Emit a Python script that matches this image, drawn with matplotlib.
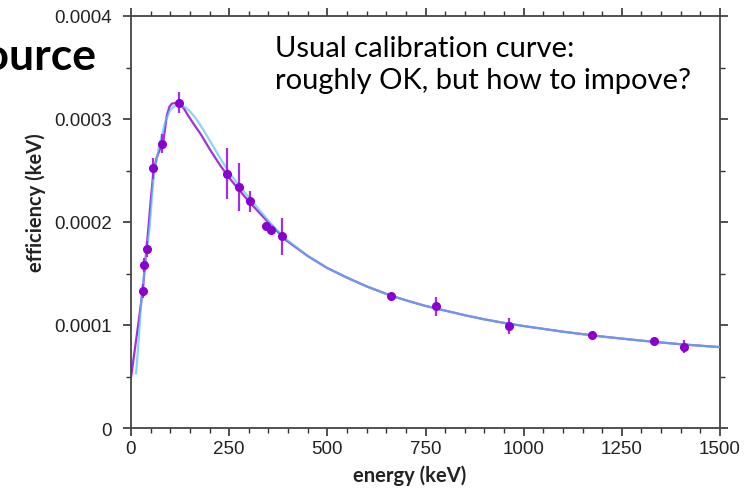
import matplotlib
matplotlib.use("Agg")
import matplotlib.pyplot as plt
from matplotlib.ticker import MultipleLocator, FuncFormatter
import numpy as np

# measured points (energy keV, efficiency in units of 1e-4)
energy_pts = [30, 34, 40, 57, 80, 121, 244, 275, 303, 343, 356, 384, 662, 778, 963, 1173, 1333, 1408]
eff_pts = [1.33, 1.58, 1.74, 2.52, 2.76, 3.16, 2.47, 2.34, 2.20, 1.96, 1.92, 1.86, 1.28, 1.18, 0.99, 0.905, 0.843, 0.79]
eff_err = [0.07, 0.07, 0.08, 0.10, 0.09, 0.10, 0.25, 0.23, 0.10, 0.04, 0.04, 0.18, 0.02, 0.09, 0.08, 0.02, 0.02, 0.06]

# common tail of both fit curves
tail_e = [450, 500, 550, 600, 662, 700, 750, 800, 850, 900, 950, 1000, 1100, 1200, 1300, 1400, 1500]
tail_eff = [1.67, 1.553, 1.46, 1.375, 1.285, 1.24, 1.185, 1.14, 1.095, 1.055, 1.02, 0.99, 0.935, 0.888, 0.848, 0.813, 0.785]

# purple fit curve
purple_e = [0, 10, 20, 30, 37, 44, 50, 57, 65, 75, 83, 91, 98, 104, 115, 125, 135, 146, 160, 178,
            200, 227, 250, 269, 290, 311, 333, 354, 375, 396]
purple_eff = [0.49, 0.77, 1.05, 1.34, 1.64, 1.93, 2.2, 2.48, 2.62, 2.72, 2.80, 3.03, 3.12, 3.15, 3.155,
              3.15, 3.10, 3.03, 2.95, 2.85, 2.71, 2.55, 2.43, 2.34, 2.245, 2.155, 2.065, 1.98, 1.9, 1.82]

# cyan fit curve
cyan_e = [13, 20, 27, 36, 47, 57, 70, 80, 87, 99, 108, 116, 129, 140, 150, 160, 170, 180, 193, 210, 227,
          250, 269, 290, 311, 333, 354, 375, 396]
cyan_eff = [0.53, 0.88, 1.28, 1.58, 1.93, 2.42, 2.71, 2.86, 2.97, 3.08, 3.12, 3.13, 3.13, 3.11, 3.075,
            3.03, 2.98, 2.92, 2.84, 2.73, 2.62, 2.48, 2.385, 2.285, 2.19, 2.09, 1.995, 1.91, 1.83]

scale = 1e-4

fig = plt.figure(figsize=(7.47, 4.89), dpi=100)
ax = fig.add_axes([131/747, 1 - 429/489, (720 - 131)/747, (429 - 17)/489])

ax.plot(purple_e + tail_e, np.array(purple_eff + tail_eff) * scale, color='#a030e0', lw=1.6, zorder=2)
ax.plot(cyan_e + tail_e, np.array(cyan_eff + tail_eff) * scale, color='#55c5f0', lw=1.6,
        alpha=0.7, zorder=3)
ax.errorbar(energy_pts, np.array(eff_pts) * scale, yerr=np.array(eff_err) * scale, fmt='o',
            color='#8a00d0', ms=5.5, elinewidth=1.6, ecolor='#a030e0', capsize=0, zorder=4)

ax.set_xlim(0, 1500)
ax.set_ylim(0, 0.0004)
ax.xaxis.set_major_locator(MultipleLocator(250))
ax.xaxis.set_minor_locator(MultipleLocator(50))
ax.yaxis.set_major_locator(MultipleLocator(0.0001))
ax.yaxis.set_minor_locator(MultipleLocator(0.00005))
ax.yaxis.set_major_formatter(FuncFormatter(lambda v, p: '0' if v == 0 else f'{v:.4f}'))

for s in ax.spines.values():
    s.set_color('#444444')
    s.set_linewidth(1.3)
ax.tick_params(which='both', direction='out', top=True, right=True, colors='#333333',
               labelcolor='#222222', labelsize=13.5)
ax.tick_params(which='major', length=6, width=1.2)
ax.tick_params(which='minor', length=3.5, width=1.0)
ax.tick_params(axis='x', which='major', pad=3)
ax.tick_params(axis='y', which='major', pad=8)
for lab in ax.get_xticklabels() + ax.get_yticklabels():
    lab.set_family('Liberation Sans')

fig.text(410/747, 1 - 476/489, 'energy (keV)', family='Lato', weight='bold', fontsize=14.5,
         ha='center', va='center', color='#222222')
fig.text(36/747, 1 - 203/489, 'efficiency (keV)', family='Lato', weight='bold', fontsize=14.5,
         ha='center', va='center', rotation=90, color='#222222')

fig.text(97/747, 1 - 57/489, 'Source', family='Lato', weight='bold', fontsize=32,
         ha='right', va='center', color='black')

ax.text(275/747, 1 - 65/489, 'Usual calibration curve:\nroughly OK, but how to impove?',
        transform=fig.transFigure, family='Lato', fontsize=21, ha='left', va='center',
        linespacing=1.3, color='black')

fig.savefig('out.png', dpi=100)
